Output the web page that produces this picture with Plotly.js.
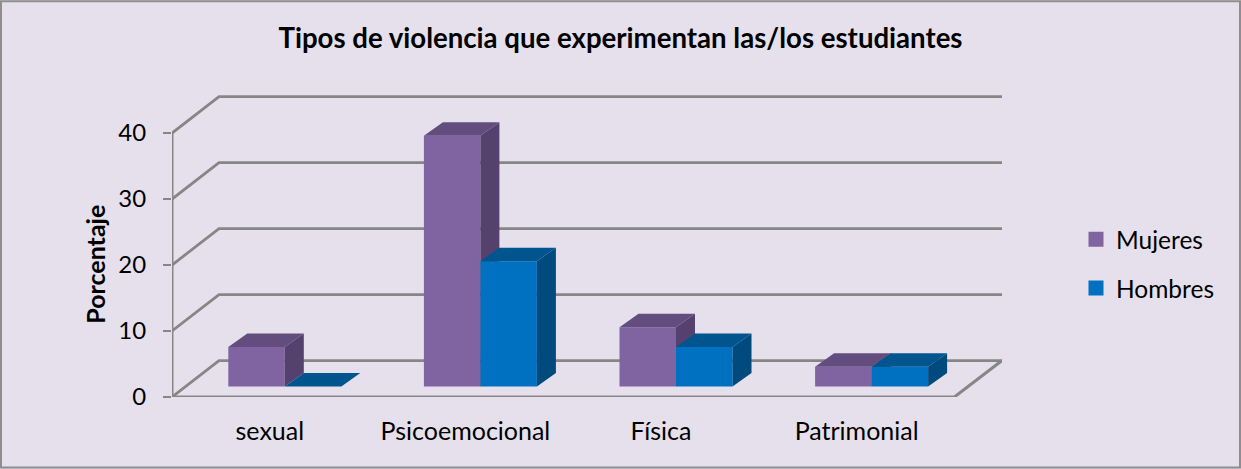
<!DOCTYPE html>
<html>
<head>
<meta charset="utf-8">
<script src="https://cdn.plot.ly/plotly-3.0.1.min.js"></script>
<style>html,body{margin:0;padding:0;background:#E6E0EC}#chart{width:1241px;height:469px}</style>
</head>
<body>
<div id="chart"></div>
<script>
var categories = ["sexual", "Psicoemocional", "Física", "Patrimonial"];
var mujeres = [6, 38, 9, 3];
var hombres = [0, 19, 6, 3];
var yTicks = [0, 10, 20, 30, 40];
var titleText = "Tipos de violencia que experimentan las/los estudiantes";
var yTitleText = "Porcentaje";

var W = 1241, H = 469;
var left = 172, right = 1002, top_ = 95, bottom = 397.5;
var pxPerCat = 195.6, pxPerUnit = 6.61;
var fontName = "Lato, Carlito, Calibri, sans-serif";
var colorM = "#8064A2", colorH = "#0070C0";

var xIdx = categories.map(function (_, i) { return i; });
var xMin = -0.5, xMax = xMin + (right - left) / pxPerCat;
var yMax = (bottom - top_) / pxPerUnit;

// 3-D projection offsets, in axis units
var wallDX = 47 / pxPerCat, wallDY = 36.5 / pxPerUnit;
var baseY = 10.5 / pxPerUnit, shiftX = 15 / pxPerCat;
var barW = 56.5 / pxPerCat, barDX = 19 / pxPerCat, barDY = 13.5 / pxPerUnit;

function line(x, y, width, z) {
  return { type: "scatter", mode: "lines", x: x, y: y, showlegend: false, hoverinfo: "skip",
           line: { color: "#868686", width: width }, zorder: z };
}
var traces = [];
var floorEnd = xMin + 4;
yTicks.forEach(function (v) {
  traces.push(line([xMin, xMin + wallDX, xMax], [v, v + wallDY, v + wallDY], 2.8, 0));
});
traces.push(line([xMin, floorEnd, xMax], [0, 0, wallDY], 3, 0));
traces.push(line([xMin, xMin], [0, yTicks[yTicks.length - 1]], 3, 0));

function barTrace(name, values, color, offset, z) {
  return { type: "bar", name: name, x: xIdx, y: values, base: values.map(function () { return baseY; }),
           width: barW, offset: offset, marker: { color: color, line: { width: 0 } },
           showlegend: false, zorder: z, hovertemplate: "%{x}: %{y}<extra>" + name + "</extra>" };
}
function legendKey(name, color) {
  return { type: "scatter", mode: "markers", name: name, x: [null], y: [null], legendgroup: name,
           marker: { symbol: "square", size: 15, color: color, line: { width: 0 } }, hoverinfo: "skip" };
}
function faces(values, x0of, color, kind, z) {
  var xs = [], ys = [];
  values.forEach(function (v, i) {
    var xl = i + x0of, xr = xl + barW, b = baseY, t = b + v;
    if (kind === "side") {
      xs.push(xr, xr + barDX, xr + barDX, xr, xr, null);
      ys.push(b, b + barDY, t + barDY, t, b, null);
    } else {
      xs.push(xl, xl + barDX, xr + barDX, xr, xl, null);
      ys.push(t, t + barDY, t + barDY, t, t, null);
    }
  });
  return { type: "scatter", mode: "lines", x: xs, y: ys, fill: "toself", fillcolor: color,
           line: { width: 0, color: color }, showlegend: false, hoverinfo: "skip", zorder: z };
}
var xM = shiftX - barW, xH = shiftX;
traces.push(barTrace("Mujeres", mujeres, colorM, xM, 1));
traces.push(faces(mujeres, xM, "#55416E", "side", 1));
traces.push(faces(mujeres, xM, "#634D7E", "top", 1));
traces.push(barTrace("Hombres", hombres, colorH, xH, 2));
traces.push(faces(hombres, xH, "#004A7E", "side", 3));
traces.push(faces(hombres, xH, "#00558F", "top", 3));
traces.push(legendKey("Mujeres", colorM));
traces.push(legendKey("Hombres", colorH));

var plotW = right - left, plotH = bottom - top_;
function px(x) { return (x - left) / plotW; }
function py(y) { return (bottom - y) / plotH; }

var layout = {
  width: W, height: H,
  margin: { l: left, r: W - right, t: top_, b: H - bottom, pad: 0 },
  paper_bgcolor: "#E6E0EC", plot_bgcolor: "rgba(0,0,0,0)",
  barmode: "overlay",
  title: { text: "<b>" + titleText + "</b>", x: 0.5, xref: "container", xanchor: "center",
           y: 1 - 38 / H, yref: "container", yanchor: "middle",
           font: { family: fontName, size: 27.6, color: "#000" } },
  xaxis: { range: [xMin, xMax], tickvals: xIdx, ticktext: categories, showgrid: false, zeroline: false,
           showline: false, ticks: "outside", ticklen: 12, tickcolor: "rgba(0,0,0,0)", fixedrange: true,
           tickfont: { family: fontName, size: 25, color: "#000" } },
  yaxis: { range: [0, yMax], tickvals: yTicks, showgrid: false, zeroline: false, showline: false,
           ticks: "outside", ticklen: 8, tickwidth: 2, tickcolor: "#868686", fixedrange: true,
           ticklabelstandoff: 12, tickfont: { family: fontName, size: 24, color: "#000" } },
  legend: { x: px(1076), y: py(217), xanchor: "left", yanchor: "top", bgcolor: "rgba(0,0,0,0)",
            tracegroupgap: 14, font: { family: fontName, size: 24.5, color: "#000" } },
  annotations: [{ text: "<b>" + yTitleText + "</b>", xref: "paper", yref: "paper", x: px(95), y: py(265),
                  xanchor: "center", yanchor: "middle", textangle: -90, showarrow: false,
                  font: { family: fontName, size: 25, color: "#000" } }],
  shapes: [{ type: "rect", xref: "paper", yref: "paper", x0: px(1), x1: px(1240), y0: py(1), y1: py(468),
             line: { color: "#8E8E8E", width: 2 }, fillcolor: "rgba(0,0,0,0)", layer: "below" }]
};
Plotly.newPlot("chart", traces, layout, { displayModeBar: false, responsive: false });
</script>
</body>
</html>
